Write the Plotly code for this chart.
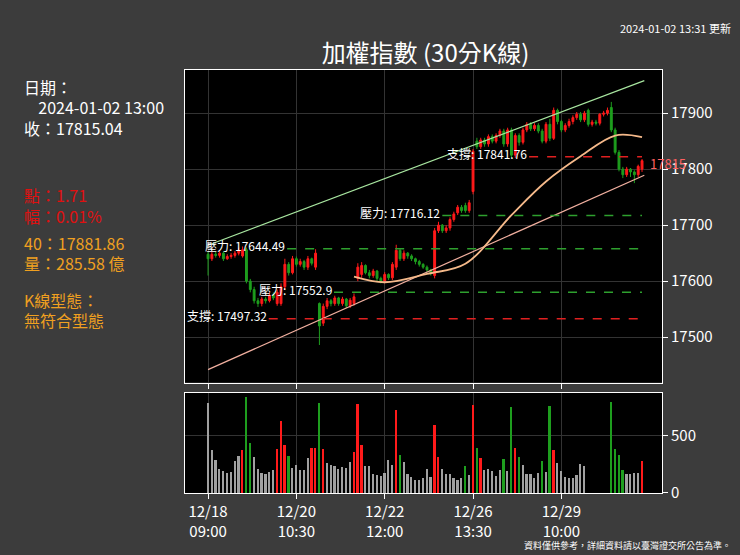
import plotly.graph_objects as go
from plotly.subplots import make_subplots

# 30 minute bars, index 0..113
opens = [17648, 17640, 17648, 17646, 17650, 17640, 17644, 17646, 17650, 17645,
         17656, 17600, 17585, 17565, 17560, 17568, 17565, 17575, 17560, 17560,
         17590, 17630, 17615, 17640, 17630, 17635, 17625, 17640, 17625, 17560,
         17525, 17555, 17565, 17560, 17570, 17560, 17568, 17556, 17560, 17605,
         17612, 17628, 17615, 17610, 17618, 17605, 17600, 17612, 17606, 17625,
         17655, 17640, 17650, 17645, 17640, 17635, 17630, 17625, 17620, 17610,
         17690, 17700, 17690, 17695, 17710, 17722, 17732, 17735, 17726, 17760,
         17850, 17840, 17852, 17845, 17858, 17850, 17860, 17868, 17845, 17870,
         17825, 17860, 17848, 17870, 17880, 17872, 17878, 17868, 17850, 17880,
         17855, 17905, 17885, 17870, 17878, 17885, 17892, 17898, 17888, 17905,
         17880, 17884, 17882, 17898, 17900, 17910, 17870, 17830, 17800, 17790,
         17800, 17795, 17790, 17800]
closes = [17640, 17648, 17646, 17650, 17640, 17644, 17646, 17650, 17655, 17656,
          17600, 17585, 17565, 17560, 17568, 17565, 17575, 17570, 17580, 17590,
          17630, 17615, 17640, 17630, 17635, 17625, 17640, 17632, 17650, 17520,
          17555, 17565, 17560, 17570, 17560, 17568, 17556, 17566, 17572, 17625,
          17628, 17615, 17610, 17618, 17605, 17600, 17612, 17606, 17630, 17655,
          17640, 17650, 17645, 17640, 17635, 17630, 17625, 17620, 17615, 17690,
          17700, 17690, 17695, 17710, 17720, 17732, 17726, 17726, 17740, 17832,
          17840, 17852, 17845, 17858, 17850, 17860, 17868, 17845, 17870, 17825,
          17860, 17848, 17870, 17880, 17872, 17878, 17868, 17850, 17880, 17855,
          17905, 17885, 17870, 17878, 17885, 17892, 17898, 17888, 17900, 17880,
          17884, 17882, 17898, 17900, 17905, 17870, 17830, 17800, 17790, 17800,
          17795, 17790, 17805, 17815]
highs = [17652, 17652, 17652, 17654, 17653, 17648, 17650, 17654, 17660, 17662,
         17660, 17604, 17590, 17570, 17572, 17572, 17580, 17580, 17585, 17596,
         17640, 17634, 17645, 17644, 17640, 17638, 17645, 17642, 17657, 17562,
         17560, 17570, 17568, 17574, 17572, 17572, 17570, 17570, 17578, 17632,
         17634, 17630, 17620, 17622, 17620, 17608, 17616, 17614, 17634, 17665,
         17658, 17655, 17652, 17648, 17642, 17638, 17632, 17628, 17622, 17695,
         17706, 17702, 17700, 17714, 17724, 17736, 17736, 17740, 17745, 17836,
         17856, 17856, 17856, 17862, 17862, 17864, 17872, 17872, 17874, 17874,
         17864, 17864, 17874, 17884, 17884, 17882, 17882, 17872, 17884, 17890,
         17910, 17908, 17888, 17882, 17890, 17896, 17902, 17902, 17904, 17908,
         17888, 17888, 17900, 17904, 17910, 17920, 17874, 17834, 17804, 17804,
         17802, 17798, 17808, 17818]
lows = [17610, 17636, 17642, 17642, 17636, 17638, 17640, 17642, 17646, 17642,
        17596, 17580, 17560, 17554, 17555, 17560, 17562, 17566, 17556, 17556,
        17585, 17610, 17612, 17626, 17626, 17620, 17620, 17628, 17620, 17486,
        17520, 17550, 17555, 17556, 17556, 17556, 17552, 17552, 17556, 17600,
        17606, 17612, 17605, 17606, 17600, 17596, 17596, 17602, 17602, 17620,
        17636, 17636, 17640, 17636, 17630, 17626, 17622, 17616, 17610, 17605,
        17686, 17686, 17686, 17690, 17706, 17718, 17722, 17722, 17722, 17755,
        17836, 17836, 17840, 17840, 17846, 17846, 17856, 17840, 17840, 17820,
        17820, 17842, 17844, 17866, 17868, 17868, 17864, 17846, 17846, 17850,
        17852, 17880, 17866, 17866, 17874, 17880, 17888, 17884, 17884, 17876,
        17876, 17878, 17878, 17894, 17896, 17866, 17826, 17796, 17784, 17786,
        17786, 17775, 17786, 17795]

volumes = [788, 378, 288, 209, 192, 175, 186, 277, 322, 378,
           836, 435, 313, 215, 181, 164, 186, 200, 390, 633,
           421, 328, 223, 243, 203, 203, 305, 393, 393, 788,
           390, 263, 249, 237, 215, 232, 223, 271, 359, 780,
           424, 237, 237, 164, 158, 153, 175, 288, 249, 726,
           331, 271, 164, 144, 119, 119, 133, 209, 138, 596,
           316, 209, 164, 164, 130, 119, 136, 237, 158, 768,
           398, 305, 203, 209, 192, 153, 203, 302, 195, 754,
           395, 313, 243, 169, 164, 136, 175, 282, 189, 757,
           373, 260, 192, 141, 136, 136, 161, 257, 234, 0,
           0, 0, 0, 0, 0, 797, 384, 331, 203, 172,
           172, 175, 175, 280]
vol_tags = (["n"] * 9 + ["r", "g", "g"] + ["n"] * 6 + ["r", "r", "r", "g"] + ["n"] * 5
            + ["r", "r", "g", "r"] + ["n"] * 7 + ["r", "r", "r"] + ["n"] * 8 + ["r", "g"]
            + ["n"] * 8 + ["r", "r"] + ["n"] * 6 + ["g", "n", "r", "g", "r"] + ["n"] * 5
            + ["g", "n", "g", "r", "g"] + ["n"] * 5 + ["g", "n", "g", "r"] + ["n"] * 14
            + ["g", "g", "g", "g"] + ["n"] * 4 + ["r"])

ma_x = [38, 46, 57, 67, 79, 88, 97, 106, 113]
ma40 = [17608, 17598, 17613, 17631, 17718, 17778, 17823, 17860, 17857]

upper_x = [0, 113.6]
upper_y = [17664, 17958]
lower_x = [0, 113.6]
lower_y = [17442, 17789]

levels = [17658, 17580, 17717, 17822, 17533]
level_start = [20.6, 32.8, 61, 83.6, 15.8]
level_text = ["壓力: 17644.49", "壓力: 17552.9", "壓力: 17716.12", "支撐: 17841.76", "支撐: 17497.32"]
level_kind = ["res", "res", "res", "sup", "sup"]

tick_pos = [0, 23, 46, 69, 92]
tick_text = ["12/18<br>09:00", "12/20<br>10:30", "12/22<br>12:00", "12/26<br>13:30", "12/29<br>10:00"]

UP = "#ff1a1a"
DOWN = "#1e9e1e"
FONT = "Noto Sans CJK TC"
x = list(range(len(closes)))

# plot area in pixels: x 185..662, y 70..493
PL, PR, PT, PB = 185, 662, 70, 493


def px(xp):
    return (xp - PL) / (PR - PL)


def py(yp):
    return (PB - yp) / (PB - PT)


fig = make_subplots(rows=2, cols=1, shared_xaxes=True, row_heights=[0.757, 0.243],
                    vertical_spacing=0.024)

fig.add_trace(go.Candlestick(
    x=x, open=opens, high=highs, low=lows, close=closes,
    increasing=dict(line=dict(color=UP, width=1), fillcolor=UP),
    decreasing=dict(line=dict(color=DOWN, width=1), fillcolor=DOWN),
    whiskerwidth=0, showlegend=False, hoverinfo="skip"), row=1, col=1)

fig.add_trace(go.Scatter(x=upper_x, y=upper_y, mode="lines",
                         line=dict(color="#a8e6a0", width=1.2), showlegend=False), row=1, col=1)
fig.add_trace(go.Scatter(x=lower_x, y=lower_y, mode="lines",
                         line=dict(color="#f2b0a0", width=1.2), showlegend=False), row=1, col=1)
fig.add_trace(go.Scatter(x=ma_x, y=ma40, mode="lines", line_shape="spline",
                         line=dict(color="#f5b98a", width=1.8), showlegend=False), row=1, col=1)

for lv, st, txt, kind in zip(levels, level_start, level_text, level_kind):
    col = "#2ea02e" if kind == "res" else "#e02020"
    fig.add_trace(go.Scatter(x=[st, 113], y=[lv, lv], mode="lines",
                             line=dict(color=col, width=1.5, dash="dash"),
                             showlegend=False), row=1, col=1)
    fig.add_annotation(x=st, y=lv, text=txt, showarrow=False, xanchor="right",
                       yanchor="middle", yshift=3, font=dict(color="white", size=12),
                       xref="x", yref="y")

fig.add_annotation(x=px(648), y=closes[-1] - 5, xref="paper", yref="y", text=f"{closes[-1]:.0f}",
                   showarrow=False, xanchor="left", font=dict(color="#ff6060", size=13))

vcolors = [{"r": UP, "g": DOWN, "n": "#a0a0a0"}[t] for t in vol_tags]
fig.add_trace(go.Bar(x=x, y=volumes, marker=dict(color=vcolors, line_width=0),
                     width=0.45, showlegend=False), row=2, col=1)

axis_common = dict(showline=True, linecolor="white", linewidth=1, mirror=True,
                   gridcolor="#333333", zeroline=False, tickfont=dict(color="white", size=15))
fig.update_xaxes(range=[-6, 118.2], tickvals=tick_pos, ticktext=tick_text,
                 rangeslider_visible=False, ticks="outside", tickcolor="white", **axis_common)
fig.update_xaxes(showticklabels=False, row=1, col=1)
fig.update_yaxes(side="right", tickformat="d", ticks="outside", tickcolor="white", **axis_common)
fig.update_yaxes(range=[17419, 17977], tickvals=[17500, 17600, 17700, 17800, 17900], row=1, col=1)
fig.update_yaxes(range=[0, 873], tickvals=[0, 500], row=2, col=1)

left_lines = [
    (87, "日期：", "white"), (107, "    2024-01-02 13:00", "white"), (128, "收：17815.04", "white"),
    (195, "點：1.71", "#e01010"), (216, "幅：0.01%", "#e01010"),
    (243, "40：17881.86", "#f0a020"), (263, "量：285.58 億", "#f0a020"),
    (300, "K線型態：", "#f0a020"), (320, "無符合型態", "#f0a020"),
]
for ypx, txt, col in left_lines:
    fig.add_annotation(x=px(22), y=py(ypx), xref="paper", yref="paper", text=txt,
                       showarrow=False, xanchor="left", yanchor="middle",
                       font=dict(color=col, size=16))

fig.update_layout(
    width=740, height=555,
    paper_bgcolor="#3c3c3c", plot_bgcolor="black",
    margin=dict(l=PL, r=740 - PR, t=PT, b=555 - PB),
    font=dict(family=FONT, color="white"),
    title=dict(text="加權指數 (30分K線)", x=0.575, xanchor="center", y=0.918,
               font=dict(size=24, color="white")),
    bargap=0,
)
fig.add_annotation(x=px(733), y=py(18), xref="paper", yref="paper", xanchor="right",
                   text="2024-01-02 13:31 更新", showarrow=False, font=dict(size=11, color="white"))
fig.add_annotation(x=px(733), y=py(554), xref="paper", yref="paper", xanchor="right",
                   yanchor="bottom", text="資料僅供參考，詳細資料請以臺灣證交所公告為準。",
                   showarrow=False, font=dict(size=9, color="white"))

fig.write_html("out.html", config={"displayModeBar": False},
               post_script="document.body.style.margin='0';document.body.style.overflow='hidden';")
